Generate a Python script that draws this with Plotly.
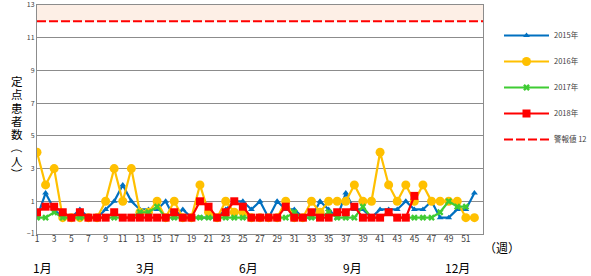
import plotly.graph_objects as go

weeks = list(range(1, 53))
y2015 = [0, 1.5, 0.5, 0, 0, 0.5, 0, 0, 0.5, 1, 2, 1, 0.5, 0.5, 0.5, 1, 0, 0.5, 0, 0,
         0, 0, 0.5, 1, 1, 0.5, 1, 0, 1, 0.5, 0.5, 0, 0, 1, 0.5, 0, 1.5, 0.5, 0.5, 0,
         0.5, 0.5, 0.5, 1, 0.5, 0.5, 1, 0, 0, 0.5, 0.5, 1.5]
y2016 = [4, 2, 3, 0, 0, 0, 0, 0, 1, 3, 1, 3, 0.33, 0.33, 1, 0, 1, 0, 0, 2,
         0.33, 0, 1, 0.33, 0.33, 0, 0, 0, 0, 1, 0, 0, 1, 0.33, 1, 1, 1, 2, 1, 1,
         4, 2, 1, 2, 1, 2, 1, 1, 1, 1, 0, 0]
y2017 = [0, 0, 0.33, 0, 0, 0, 0, 0, 0, 0, 0, 0, 0.33, 0.33, 0.67, 0, 0, 0, 0, 0,
         0, 0, 0, 0, 0, 0, 0, 0, 0, 0, 0.33, 0, 0, 0, 0.33, 0, 0, 0, 0.67, 0,
         0, 0.33, 0, 0, 0, 0, 0, 0.33, 1, 0.67, 0.67, None]
y2018 = [0.33, 0.67, 0.67, 0.33, 0, 0.33, 0, 0, 0, 0.33, 0, 0, 0, 0, 0, 0, 0.33, 0, 0, 1,
         0.67, 0, 0.33, 1, 0.67, 0, 0, 0, 0, 0.67, 0, 0, 0.33, 0, 0, 0.33, 0.33, 0.67, 0, 0,
         0, 0.33, 0, 0, 1.33] + [None] * 7
alert_level = 12
alert_weeks = list(range(1, 54))
tick_weeks = list(range(1, 52, 2))
month_labels = ["1月", "3月", "6月", "9月", "12月"]
month_px = [42, 145, 248, 352, 457]
ytitle_chars = ["定", "点", "患", "者", "数", "（", "人", "）"]

FONT = "Noto Sans CJK JP"
fig = go.Figure()

series = [
    ("2015年", y2015, "#0070C0", "triangle-up", 6),
    ("2016年", y2016, "#FFC000", "circle", 9),
    ("2017年", y2017, "#3FCC33", "x", 6),
    ("2018年", y2018, "#FF0000", "square", 8),
]
for i, (name, ys, col, sym, sz) in enumerate(series):
    fig.add_trace(go.Scatter(
        x=weeks, y=ys, name=name, mode="lines+markers",
        line=dict(color=col, width=2.2),
        marker=dict(symbol=sym, size=sz, color=col, line=dict(width=0)),
        legendgroup=str(i), connectgaps=False))

fig.add_trace(go.Scatter(
    x=alert_weeks, y=[alert_level] * len(alert_weeks), name="警報値 12",
    mode="lines", line=dict(color="#FF0000", width=2, dash="9px,3px"),
    legendgroup="4"))

fig.add_shape(type="rect", xref="paper", yref="y", x0=0, x1=1, y0=12, y1=13,
              fillcolor="#FDEFE6", line=dict(width=0), layer="below")

L, R, T, B = 37, 108, 5, 42
W, H = 591, 276
ph = H - T - B
pw = W - L - R

def py(p):
    return (H - B - p) / ph

def px(p):
    return (p - L) / pw

for k, ch in enumerate(ytitle_chars):
    rot = 90 if ch in ("（", "）") else 0
    fig.add_annotation(text=ch, xref="paper", yref="paper", x=px(17), y=py(81 + k * 13.3),
                       showarrow=False, textangle=rot,
                       font=dict(family=FONT, size=11.5, color="#000000"),
                       xanchor="center", yanchor="middle")

for lab, p in zip(month_labels, month_px):
    fig.add_annotation(text=lab, xref="paper", yref="paper", x=px(p), y=py(267),
                       showarrow=False, font=dict(family=FONT, size=12, color="#000000"),
                       xanchor="center", yanchor="middle")

fig.add_annotation(text="（週）", xref="paper", yref="paper", x=px(502), y=py(247),
                   showarrow=False, font=dict(family=FONT, size=12, color="#000000"),
                   xanchor="center", yanchor="middle")

fig.update_layout(
    width=W, height=H,
    margin=dict(l=L, r=R, t=T, b=B, autoexpand=False),
    paper_bgcolor="white", plot_bgcolor="white",
    font=dict(family=FONT, color="#404040"),
    showlegend=True,
    legend=dict(x=px(499), y=py(21), xanchor="left", yanchor="top",
                font=dict(family=FONT, size=7.5, color="#404040"),
                tracegroupgap=7, itemwidth=45, bgcolor="rgba(0,0,0,0)"),
    xaxis=dict(range=[1, 53], tickmode="array", tickvals=tick_weeks,
               ticktext=[str(t) for t in tick_weeks],
               showgrid=False, zeroline=False, showline=True, mirror=True,
               linecolor="#8C8C8C", linewidth=1, ticks="", ticklabelstandoff=-3,
               tickfont=dict(family=FONT, size=8.5, color="#404040")),
    yaxis=dict(range=[-1, 13], tick0=-1, dtick=2, showgrid=True,
               gridcolor="#8C8C8C", gridwidth=1, zeroline=False,
               showline=True, mirror=True, linecolor="#8C8C8C", linewidth=1,
               ticks="", ticklabeloverflow="allow",
               tickfont=dict(family=FONT, size=7, color="#404040")),
)

fig.write_html("out.html")
